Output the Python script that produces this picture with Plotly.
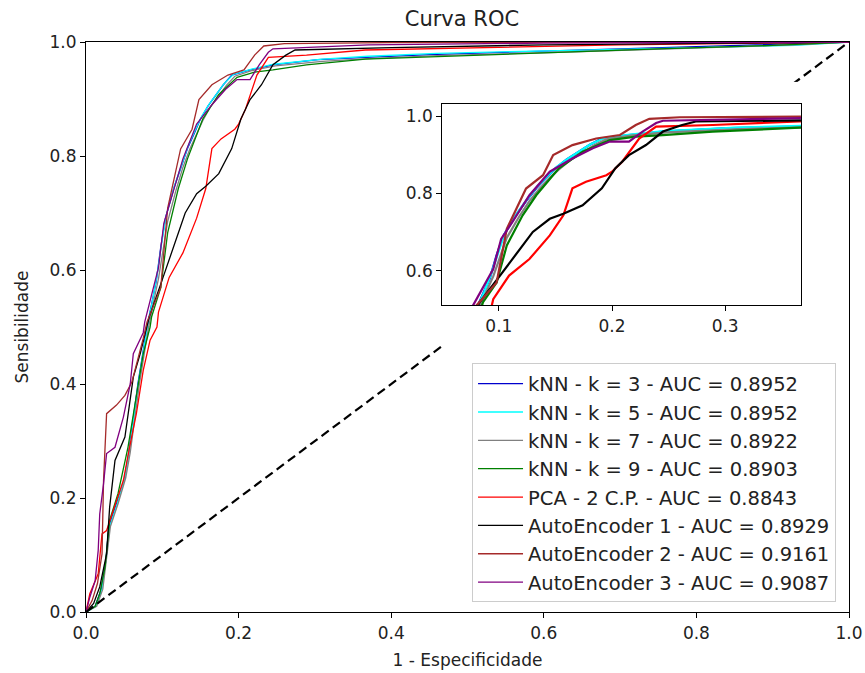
import plotly.graph_objects as go

# ROC curves (1 - especificidade, sensibilidade)
names = ['kNN - k = 3 - AUC = 0.8952', 'kNN - k = 5 - AUC = 0.8952',
         'kNN - k = 7 - AUC = 0.8922', 'kNN - k = 9 - AUC = 0.8903',
         'PCA - 2 C.P. - AUC = 0.8843', 'AutoEncoder 1 - AUC = 0.8929',
         'AutoEncoder 2 - AUC = 0.9161', 'AutoEncoder 3 - AUC = 0.9087']
colors = ['mediumblue', 'cyan', 'gray', 'green', 'red', 'black', 'brown', 'purple']

knn3_fpr = [0, 0.012, 0.02, 0.026, 0.03, 0.04, 0.05, 0.056, 0.062, 0.068, 0.074, 0.08, 0.086,
            0.092, 0.098, 0.104, 0.115, 0.124, 0.133, 0.142, 0.15, 0.16, 0.171, 0.18, 0.191,
            0.215, 0.245, 0.304, 0.366, 0.45, 0.6, 0.75, 0.93, 1]
knn3_tpr = [0, 0.01, 0.04, 0.09, 0.15, 0.19, 0.23, 0.28, 0.34, 0.40, 0.45, 0.50, 0.54,
            0.58, 0.64, 0.69, 0.743, 0.78, 0.813, 0.84, 0.865, 0.888, 0.908, 0.925, 0.942,
            0.951, 0.96, 0.969, 0.973, 0.978, 0.984, 0.99, 0.996, 1]

knn5_fpr = [0, 0.013, 0.021, 0.027, 0.031, 0.041, 0.051, 0.057, 0.063, 0.069, 0.075, 0.081,
            0.087, 0.093, 0.099, 0.105, 0.116, 0.125, 0.134, 0.143, 0.151, 0.161, 0.172,
            0.181, 0.193, 0.216, 0.246, 0.31, 0.37, 0.46, 0.62, 0.78, 0.93, 1]
knn5_tpr = [0, 0.01, 0.04, 0.1, 0.15, 0.19, 0.235, 0.285, 0.345, 0.405, 0.455, 0.505,
            0.545, 0.59, 0.645, 0.695, 0.748, 0.785, 0.818, 0.845, 0.868, 0.89, 0.91,
            0.927, 0.943, 0.952, 0.961, 0.97, 0.975, 0.98, 0.985, 0.99, 0.994, 1]

knn7_fpr = [0, 0.014, 0.022, 0.028, 0.032, 0.042, 0.052, 0.058, 0.064, 0.07, 0.076, 0.082,
            0.088, 0.095, 0.101, 0.107, 0.118, 0.127, 0.136, 0.145, 0.153, 0.163, 0.174,
            0.184, 0.195, 0.218, 0.248, 0.31, 0.37, 0.46, 0.62, 0.8, 0.93, 1]
knn7_tpr = [0, 0.01, 0.04, 0.1, 0.15, 0.19, 0.235, 0.28, 0.34, 0.4, 0.45, 0.5,
            0.54, 0.585, 0.635, 0.685, 0.74, 0.78, 0.812, 0.84, 0.862, 0.886, 0.906,
            0.924, 0.94, 0.95, 0.958, 0.966, 0.971, 0.976, 0.982, 0.99, 0.995, 1]

knn9_fpr = [0, 0.012, 0.018, 0.025, 0.031, 0.042, 0.055, 0.062, 0.069, 0.075, 0.084, 0.086,
            0.098, 0.107, 0.121, 0.133, 0.153, 0.174, 0.198, 0.221, 0.245, 0.289, 0.366,
            0.45, 0.6, 0.75, 0.9, 1]
knn9_tpr = [0, 0.01, 0.032, 0.079, 0.161, 0.208, 0.289, 0.348, 0.406, 0.453, 0.50, 0.518,
            0.569, 0.665, 0.743, 0.795, 0.865, 0.908, 0.938, 0.947, 0.951, 0.96, 0.97,
            0.974, 0.982, 0.988, 0.994, 1]

pca_fpr = [0, 0.005, 0.016, 0.021, 0.027, 0.036, 0.049, 0.058, 0.066, 0.075, 0.084, 0.093,
           0.095, 0.109, 0.127, 0.145, 0.157, 0.165, 0.177, 0.195, 0.2, 0.209, 0.218, 0.224,
           0.239, 0.289, 0.366, 0.5, 0.7, 1]
pca_tpr = [0, 0.032, 0.067, 0.137, 0.143, 0.178, 0.231, 0.295, 0.348, 0.424, 0.477, 0.50,
           0.526, 0.587, 0.63, 0.691, 0.743, 0.813, 0.83, 0.847, 0.856, 0.882, 0.917, 0.942,
           0.973, 0.977, 0.986, 0.99, 0.995, 1]

ae1_fpr = [0, 0.01, 0.018, 0.027, 0.031, 0.038, 0.051, 0.058, 0.062, 0.071, 0.08, 0.083,
           0.101, 0.119, 0.13, 0.145, 0.157, 0.174, 0.191, 0.203, 0.215, 0.23, 0.245, 0.262,
           0.274, 0.4, 0.6, 1]
ae1_tpr = [0, 0.015, 0.044, 0.102, 0.184, 0.266, 0.307, 0.371, 0.412, 0.453, 0.50, 0.518,
           0.587, 0.656, 0.70, 0.734, 0.747, 0.769, 0.813, 0.865, 0.899, 0.925, 0.96, 0.977,
           0.986, 0.99, 0.995, 1]

ae2_fpr = [0, 0.008, 0.015, 0.021, 0.023, 0.027, 0.04, 0.051, 0.06, 0.069, 0.075, 0.08,
           0.098, 0.107, 0.124, 0.139, 0.148, 0.165, 0.186, 0.207, 0.221, 0.233, 0.26, 0.4, 1]
ae2_tpr = [0, 0.02, 0.05, 0.102, 0.231, 0.348, 0.363, 0.38, 0.403, 0.447, 0.48, 0.509,
           0.569, 0.708, 0.8125, 0.847, 0.899, 0.925, 0.942, 0.951, 0.977, 0.993, 0.997, 0.999, 1]

ae3_fpr = [0, 0.005, 0.012, 0.016, 0.018, 0.023, 0.027, 0.038, 0.049, 0.058, 0.062, 0.075,
           0.077, 0.095, 0.102, 0.112, 0.127, 0.145, 0.165, 0.183, 0.198, 0.215, 0.227, 0.239,
           0.245, 0.37, 0.6, 1]
ae3_tpr = [0, 0.026, 0.055, 0.108, 0.172, 0.225, 0.278, 0.289, 0.342, 0.40, 0.453, 0.49,
           0.509, 0.604, 0.682, 0.726, 0.795, 0.856, 0.89, 0.917, 0.934, 0.934, 0.96, 0.982,
           0.988, 0.995, 0.998, 1]

curves = [(knn3_fpr, knn3_tpr), (knn5_fpr, knn5_tpr), (knn7_fpr, knn7_tpr), (knn9_fpr, knn9_tpr),
          (pca_fpr, pca_tpr), (ae1_fpr, ae1_tpr), (ae2_fpr, ae2_tpr), (ae3_fpr, ae3_tpr)]

diag = [0, 1]
ticks_main = [0, 0.2, 0.4, 0.6, 0.8, 1.0]
ticks_inset_x = [0.1, 0.2, 0.3]
ticks_inset_y = [0.6, 0.8, 1.0]

font = 'DejaVu Sans'
fig = go.Figure()

# main axes
for (fpr, tpr), name, c in zip(curves, names, colors):
    fig.add_trace(go.Scatter(x=fpr, y=tpr, mode='lines', name=name, legendgroup=name,
                             line=dict(color=c, width=1.3), xaxis='x', yaxis='y'))
fig.add_trace(go.Scatter(x=diag, y=diag, mode='lines', showlegend=False,
                         line=dict(color='black', width=2.2, dash='9px,5px')))

# inset (zoom of the same curves)
for (fpr, tpr), name, c in zip(curves, names, colors):
    fig.add_trace(go.Scatter(x=fpr, y=tpr, mode='lines', showlegend=False, legendgroup=name,
                             line=dict(color=c, width=2.2), xaxis='x3', yaxis='y3'))

axis_style = dict(showline=True, mirror=True, linecolor='black', linewidth=1.2,
                  ticks='outside', ticklen=5, tickcolor='black', showgrid=False,
                  zeroline=False, automargin=False,
                  tickfont=dict(family=font, size=17, color='#222'))

fig.update_layout(
    width=865, height=673,
    margin=dict(l=86, r=16, t=42, b=61),
    plot_bgcolor='white', paper_bgcolor='white',
    font=dict(family=font, color='#222'),
    title=dict(text='Curva ROC', x=0.534, xanchor='center', y=0.972, yanchor='middle',
               font=dict(family=font, size=21, color='#222')),
    xaxis=dict(range=[0, 1], domain=[0, 1], tickvals=ticks_main,
               ticktext=[f'{v:.1f}' for v in ticks_main],
               title=dict(text='1 - Especificidade', font=dict(family=font, size=17), standoff=12),
               **axis_style),
    yaxis=dict(range=[0, 1], domain=[0, 1], tickvals=ticks_main,
               ticktext=[f'{v:.1f}' for v in ticks_main],
               title=dict(text='Sensibilidade', font=dict(family=font, size=17), standoff=16),
               **axis_style),
    # hidden axes holding the white patch behind the inset
    xaxis2=dict(domain=[0.467, 0.937], range=[0, 1], anchor='y2', visible=False),
    yaxis2=dict(domain=[0.468, 0.93], range=[0, 1], anchor='x2', visible=False),
    xaxis3=dict(domain=[0.467, 0.937], range=[0.05, 0.367], anchor='y3',
                tickvals=ticks_inset_x, ticktext=[f'{v:.1f}' for v in ticks_inset_x],
                **axis_style),
    yaxis3=dict(domain=[0.538, 0.891], range=[0.51, 1.031], anchor='x3',
                tickvals=ticks_inset_y, ticktext=[f'{v:.1f}' for v in ticks_inset_y],
                **axis_style),
    shapes=[dict(type='rect', xref='x2', yref='y2', x0=0, x1=1, y0=0, y1=1,
                 fillcolor='white', line=dict(width=0), layer='below')],
    legend=dict(x=0.983, y=0.0167, xanchor='right', yanchor='bottom',
                bgcolor='rgba(255,255,255,0.8)', bordercolor='#cccccc', borderwidth=1,
                font=dict(family=font, size=19.5, color='#222'),
                itemwidth=45, traceorder='grouped', tracegroupgap=0),
    showlegend=True,
)

# drop the default 8px page margin so the figure fills the window exactly
fig.write_html('out.html', config={'displayModeBar': False},
               post_script="document.body.style.margin='0';document.body.style.overflow='hidden';")
